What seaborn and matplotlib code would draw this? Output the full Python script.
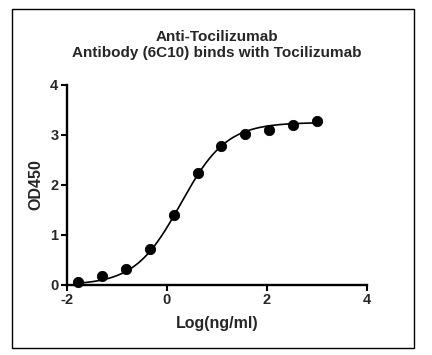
import numpy as np
import pandas as pd
import matplotlib
matplotlib.use('Agg')
import matplotlib.pyplot as plt
from matplotlib.patches import Rectangle
import seaborn as sns

# Puntos (log de concentracion y OD450)
log_conc = [-1.77, -1.29, -0.82, -0.34, 0.14, 0.62, 1.09, 1.57, 2.05, 2.52, 3.00]
od450 = [0.06, 0.17, 0.32, 0.72, 1.39, 2.24, 2.77, 3.01, 3.09, 3.20, 3.28]

# Parametros del ajuste 4PL estimados del grafico
bottom = 0.0
top = 3.25
log_ec50 = 0.28
hill = 0.95

x_ticks = [-2, 0, 2, 4]
y_ticks = [0, 1, 2, 3, 4]

sns.set_style('ticks')
plt.rcParams['font.family'] = ['Liberation Sans', 'DejaVu Sans']

df = pd.DataFrame({'x': log_conc, 'y': od450})
xs = np.linspace(min(log_conc), max(log_conc), 300)
fit = pd.DataFrame({'x': xs, 'y': bottom + (top - bottom) / (1 + 10 ** ((log_ec50 - xs) * hill))})

fig = plt.figure(figsize=(4.32, 3.55), dpi=100)
ax = fig.add_axes([0.1544, 0.1972, 0.6944, 0.5634])

sns.lineplot(data=fit, x='x', y='y', ax=ax, color='black', linewidth=1.2)
sns.scatterplot(data=df, x='x', y='y', ax=ax, color='black', s=55, edgecolor='black', zorder=3)

ax.set_xlim(-2, 4)
ax.set_ylim(0, 4)
ax.set_xticks(x_ticks)
ax.set_yticks(y_ticks)
ax.set_xticklabels([str(t) for t in x_ticks], fontweight='bold', fontsize=10.5)
ax.set_yticklabels([str(t) for t in y_ticks], fontweight='bold', fontsize=10.5)
ax.tick_params(width=1.5, length=4, pad=2, color='black')
for s in ['left', 'bottom']:
    ax.spines[s].set_linewidth(1.7)
    ax.spines[s].set_color('black')
sns.despine(ax=ax)
for c in ax.collections:
    c.set_clip_on(False)

ax.set_xlabel('Log(ng/ml)', fontsize=11.5, fontweight='bold', labelpad=6)
ax.set_ylabel('OD450', fontsize=11.5, fontweight='bold', labelpad=5)
ax.set_title('Anti-Tocilizumab\nAntibody (6C10) binds with Tocilizumab', fontsize=11, fontweight='bold',
             pad=20, linespacing=1.2)

fig.patches.append(Rectangle((12 / 432, 1 - 348 / 355), 402 / 432, 339 / 355,
                             transform=fig.transFigure, fill=False, edgecolor='black', linewidth=1.0))

fig.savefig('out.png', dpi=100)
plt.close()
